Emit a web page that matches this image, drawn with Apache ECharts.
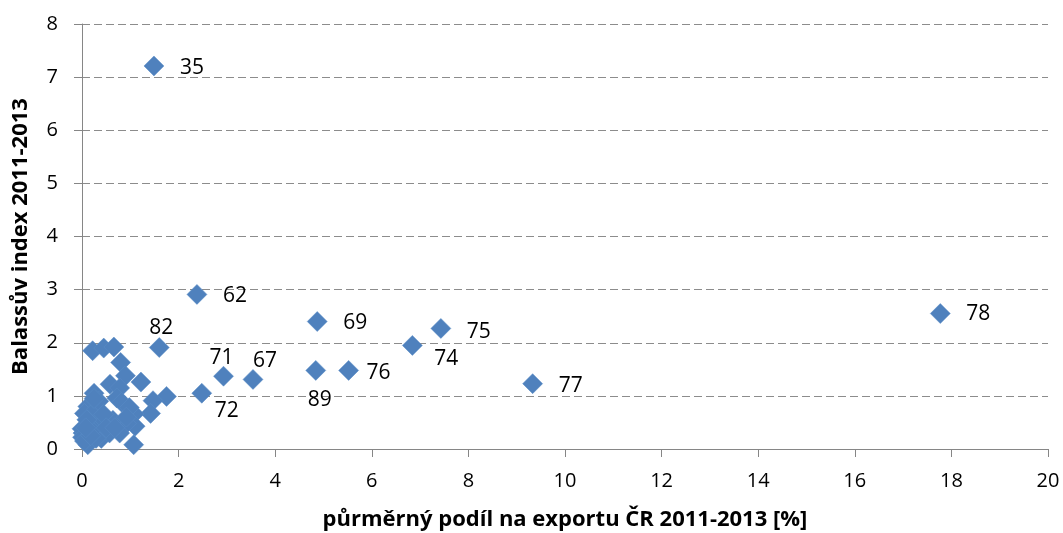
<!DOCTYPE html>
<html><head><meta charset="utf-8">
<script src="https://cdn.jsdelivr.net/npm/echarts@6/dist/echarts.min.js"></script>
<style>html,body{margin:0;padding:0;background:#fff}#c{width:1063px;height:533px}</style>
</head><body><div id="c"></div>
<script>
// labelled products
const labelNames = ['35','62','69','75','74','76','89','77','78','82','71','67','72'];
const labelX = [1.49, 2.38, 4.87, 7.43, 6.84, 5.52, 4.84, 9.33, 17.77, 1.60, 2.93, 3.54, 2.48];
const labelY = [7.21, 2.91, 2.40, 2.27, 1.95, 1.48, 1.48, 1.23, 2.55, 1.91, 1.37, 1.31, 1.05];
// unlabelled products
const otherX = [0.22,0.45,0.66,0.80,0.90,0.58,1.22,0.78,1.75,1.47,1.42,1.07,0.72,0.82,0.25,1.08,1.10,0.92,0.64,0.78,0.40,0.12,0.02,0.00,0.12,0.26,0.05,0.01,0.42,0.57,0.29,0.98,0.92,0.15,0.20,0.30,0.35,0.10,0.05,0.45,0.50,0.68,0.25,0.18,0.08];
const otherY = [1.85,1.90,1.92,1.63,1.38,1.22,1.26,1.15,0.99,0.91,0.67,0.08,0.96,0.88,1.05,0.66,0.43,0.48,0.54,0.30,0.20,0.08,0.30,0.38,0.80,0.60,0.67,0.22,0.48,0.30,0.20,0.78,0.60,0.45,0.35,0.75,0.90,0.55,0.15,0.65,0.40,0.40,0.95,0.25,0.40];
const xTicks = [0,2,4,6,8,10,12,14,16,18,20];
const yTicks = [0,1,2,3,4,5,6,7,8];

// label placement (offsets in px) per labelled point
const labelOffsets = {
  '35':[30,2], '62':[30,2], '69':[30,2], '75':[30,4], '74':[26,14], '76':[22,3],
  '89':[-4,30], '77':[30,2], '78':[30,0], '82':[-6,-20], '71':[-10,-18], '67':[4,-18], '72':[17,18]
};

const FONT = 'Open Sans';
const pts = [];
for (let i = 0; i < otherX.length; i++) pts.push({value:[otherX[i], otherY[i]]});
for (let i = 0; i < labelNames.length; i++) {
  const o = labelOffsets[labelNames[i]];
  pts.push({value:[labelX[i], labelY[i]], name: labelNames[i],
    label:{show:true, formatter: labelNames[i], position:'inside', offset:[o[0]+8, o[1]],
      color:'#000', fontSize:21, fontFamily:FONT}});
}

const chart = echarts.init(document.getElementById('c'));
chart.setOption({
  animation:false,
  backgroundColor:'#fff',
  grid:{left:82, right:15, top:24, bottom:84, containLabel:false, outerBoundsMode:'none'},
  xAxis:{type:'value', min:0, max:20, interval:2,
    axisLine:{show:true, lineStyle:{color:'#868686', width:1}},
    axisTick:{show:true, length:8, inside:false, lineStyle:{color:'#868686'}},
    axisLabel:{fontSize:20, fontFamily:FONT, color:'#000', margin:22},
    splitLine:{show:false},
    name:'půrměrný podíl na exportu ČR 2011-2013 [%]', nameLocation:'middle', nameGap:60,
    nameTextStyle:{fontSize:22, fontWeight:'bold', fontFamily:FONT, color:'#000'}},
  yAxis:{type:'value', min:0, max:8, interval:1,
    axisLine:{show:true, lineStyle:{color:'#868686', width:1}},
    axisTick:{show:true, length:8, lineStyle:{color:'#868686'}},
    axisLabel:{fontSize:20, fontFamily:FONT, color:'#000', margin:24},
    splitLine:{show:true, lineStyle:{color:'#8c8c8c', type:[8,4], width:1}},
    name:'Balassův index 2011-2013', nameLocation:'middle', nameGap:50,
    nameTextStyle:{fontSize:22, fontWeight:'bold', fontFamily:FONT, color:'#000'}},
  series:[{type:'scatter', symbol:'diamond', symbolSize:[20,20],
    itemStyle:{color:'#4f81bd', borderColor:'#5b8cc6', borderWidth:0.5, opacity:1},
    data: pts}]
});
</script></body></html>
